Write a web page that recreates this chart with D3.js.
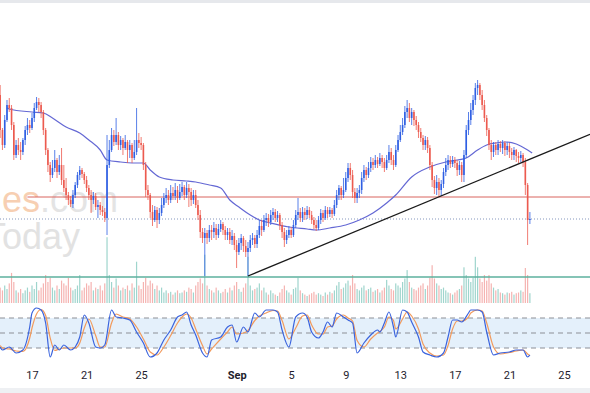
<!DOCTYPE html>
<html>
<head>
<meta charset="utf-8">
<title>Price chart</title>
<script src="https://cdn.jsdelivr.net/npm/d3@7"></script>
<style>
  body { margin: 0; background: #fff; }
  svg { display: block; font-family: Roboto, "Trebuchet MS", sans-serif; }
</style>
</head>
<body>
<svg id="chart" width="590" height="393"></svg>
<script>
// 4-hour candles, the first one opens Aug 14 16:00
var firstTime = new Date(2024, 7, 14, 16);
var firstOpen = 50.5;
var closes = [
  47.0,45.5,48.0,49.5,49.2,47.5,44.5,45.5,45.0,44.8,
  46.0,47.0,47.5,47.2,48.2,49.2,49.8,49.5,48.8,47.0,
  45.0,43.5,42.5,43.2,44.0,42.8,43.5,42.0,41.2,40.5,
  40.0,39.6,40.5,41.5,42.5,43.0,42.6,42.0,41.2,40.5,
  40.0,40.4,39.3,39.5,39.0,38.8,38.2,43.5,45.0,46.5,
  45.8,46.5,45.5,46.0,45.2,45.8,45.0,45.5,44.2,44.8,
  46.0,45.7,45.5,43.5,41.0,40.5,38.8,38.0,39.0,38.0,
  38.7,39.5,40.2,40.5,40.0,40.7,40.4,41.0,40.2,40.8,
  41.3,40.5,41.2,40.8,40.0,40.5,39.5,38.5,36.8,36.2,
  36.7,36.2,37.0,36.8,37.2,36.5,37.1,37.6,37.0,36.5,
  36.8,36.0,36.4,35.5,34.8,35.7,36.2,35.4,34.8,35.2,
  36.0,36.2,35.6,36.5,37.4,37.0,38.0,38.2,37.8,38.5,
  38.8,38.2,38.5,37.5,36.8,36.0,36.5,37.0,36.5,37.5,
  38.5,38.8,38.2,38.8,38.5,39.0,38.5,38.0,37.5,37.2,
  38.0,38.7,38.2,39.0,38.6,39.0,38.6,39.5,40.5,41.2,
  40.5,41.0,42.2,43.2,42.5,40.8,40.2,40.7,41.0,42.2,
  43.0,42.5,43.2,43.8,43.5,44.0,43.6,44.2,43.8,43.2,
  44.0,44.8,44.0,43.5,45.0,46.0,46.8,47.5,48.8,49.2,
  48.2,48.8,48.0,47.5,46.8,46.2,45.5,46.0,45.2,43.5,
  42.0,41.2,41.8,41.0,41.6,42.8,43.5,44.0,43.6,44.0,
  43.7,43.0,43.5,42.5,44.5,47.0,48.0,49.0,50.0,51.2,
  51.5,50.5,49.5,48.2,47.0,45.5,44.8,45.5,45.0,45.6,
  45.2,45.7,45.0,45.4,44.8,44.5,45.0,44.4,44.2,44.5,
  43.8,41.5,38.0,38.1];
var highs = [
  51.5,47.2,48.5,50.0,50.2,49.5,47.8,46.0,46.2,45.8,
  46.2,47.4,48.2,48.0,48.7,49.7,50.3,50.2,49.8,49.0,
  47.2,45.2,43.8,44.0,45.0,44.2,44.5,45.2,43.5,42.2,
  40.8,40.4,41.0,41.8,42.8,43.4,43.2,42.8,42.4,41.5,
  41.0,40.8,40.7,40.0,39.8,39.4,39.2,46.5,46.0,47.2,
  47.0,48.2,46.8,46.4,46.2,46.5,46.0,46.0,45.7,46.0,
  49.2,46.7,46.3,45.7,43.8,41.5,40.7,39.5,39.4,39.3,
  39.2,40.2,40.7,41.2,41.0,41.5,41.3,41.7,41.4,41.6,
  41.8,41.5,41.8,41.6,41.2,41.0,41.0,40.0,39.0,37.2,
  37.2,37.0,37.5,37.5,37.8,37.6,37.6,38.0,37.8,37.4,
  37.2,37.2,37.0,36.7,36.0,36.2,36.6,36.4,36.0,35.8,
  36.5,36.7,36.5,37.0,38.0,38.0,38.5,38.7,38.6,39.0,
  39.2,39.1,38.9,38.7,37.8,37.2,37.0,37.4,37.3,38.0,
  39.0,40.2,39.2,39.3,39.2,39.4,39.3,38.9,38.3,38.0,
  38.4,39.1,39.0,39.4,39.3,39.3,39.2,40.0,41.0,41.5,
  41.4,42.2,42.8,43.7,43.7,43.0,41.2,41.2,41.5,42.8,
  43.5,43.3,43.8,44.3,44.2,44.5,44.3,44.7,44.5,44.2,
  44.5,45.5,45.2,44.5,45.5,46.5,47.5,48.2,49.4,50.0,
  49.7,49.2,49.0,48.4,47.8,47.2,46.5,46.4,46.3,45.5,
  43.8,42.4,42.5,42.2,42.0,43.2,44.2,44.5,44.4,44.4,
  44.3,44.0,43.9,43.8,45.0,47.5,48.8,49.7,50.5,51.7,
  52.0,51.7,51.0,50.0,48.5,47.2,46.0,45.8,45.8,46.0,
  45.9,46.0,45.9,45.8,45.7,45.2,45.3,45.1,44.8,44.9,
  44.7,44.2,41.7,38.8];
var lows = [
  46.2,45.0,45.2,47.8,48.8,47.0,44.0,44.2,44.5,44.0,
  44.5,45.5,46.5,46.7,47.0,47.8,49.0,48.8,48.2,46.5,
  44.5,42.8,41.8,42.2,42.8,42.2,42.5,41.5,40.8,40.0,
  39.5,39.3,39.2,40.2,41.2,42.0,42.2,41.6,40.8,40.0,
  38.7,39.6,39.0,38.2,38.5,38.4,37.8,36.5,43.2,44.8,
  45.4,45.5,45.0,45.0,44.5,45.0,43.7,44.2,43.7,44.0,
  44.5,45.2,45.0,43.0,40.3,40.0,38.2,37.4,37.8,37.2,
  37.6,38.4,39.2,39.7,39.5,39.7,40.0,40.0,39.7,40.0,
  40.4,40.0,40.2,39.3,39.4,39.6,39.2,38.0,36.2,35.7,
  32.4,35.6,35.8,36.0,36.2,36.0,36.2,36.8,36.5,36.0,
  36.0,35.6,35.5,35.0,33.2,34.5,35.0,34.8,34.3,32.4,
  34.8,35.5,35.2,35.2,36.2,36.4,36.8,37.4,37.3,37.5,
  38.0,37.8,37.8,37.0,36.2,35.3,35.6,36.2,36.2,36.3,
  37.2,38.0,37.8,37.8,38.0,38.1,38.2,37.6,37.1,36.9,
  37.0,37.6,37.8,38.0,38.2,38.3,38.2,38.4,39.2,40.0,
  40.0,40.2,40.8,41.8,42.0,40.2,39.7,39.7,40.2,40.6,
  41.8,42.0,42.2,42.8,43.0,43.2,43.2,43.4,43.2,42.8,
  43.0,43.7,43.5,43.0,43.3,44.8,45.8,46.5,47.2,48.2,
  47.8,47.5,47.4,47.0,46.2,45.8,45.0,45.0,44.7,43.0,
  41.3,40.6,40.5,40.3,40.4,41.2,42.4,43.0,43.2,43.3,
  43.2,42.4,42.5,41.8,41.8,44.2,46.5,47.5,48.5,49.5,
  50.5,50.0,49.0,47.8,46.4,45.0,44.0,44.3,44.5,44.5,
  44.8,44.6,44.4,44.5,44.2,44.0,44.0,43.8,43.7,43.8,
  43.3,40.5,35.5,37.6];
var volumes = [
  22,18,25,20,28,43,30,18,15,20, 14,18,22,16,25,20,30,18,22,28,
  40,30,36,22,18,25,20,32,28,25, 36,22,18,20,25,40,18,22,28,25,
  30,18,22,20,25,18,28,94,40,30, 22,35,25,18,22,20,25,18,28,22,
  59,25,20,30,36,25,32,28,20,25, 18,22,15,18,14,16,12,15,18,14,
  15,18,16,22,20,15,25,30,35,28, 69,25,20,18,15,22,18,14,16,20,
  15,22,18,25,30,20,16,22,28,66, 25,18,20,22,28,18,22,15,12,18,
  14,12,10,15,20,25,18,15,12,20, 22,36,18,14,12,10,12,14,16,12,
  14,12,10,15,12,16,14,18,25,30, 20,22,28,32,25,40,28,20,18,22,
  25,18,20,22,16,18,20,15,18,22, 33,25,20,18,28,25,22,30,35,47,
  30,22,20,18,22,25,28,20,25,36, 54,35,28,25,20,22,18,15,14,12,
  15,18,20,25,51,40,35,30,36,66, 51,35,30,40,32,40,28,22,18,20,
  15,14,12,15,14,16,12,14,15,18, 16,50,40,14];

// moving average, read at candle positions
var maIdx = [3,4,14,19,23,29,35,39,44,47,53,58,63,66,70,76,82,86,92,97,101,105,110,114,119,127,135,139,145,152,158,164,170,174,181,189,196,201,205,210,214,218,223,227,232,234];
var maVal = [49.2,49.1,48.8,48.7,48.2,47.3,46.7,46.0,45.0,44.0,43.8,43.7,43.7,43.0,42.3,42.0,41.9,41.8,41.5,41.2,40.0,39.3,38.5,38.0,37.7,37.3,37.1,37.0,37.2,37.5,38.0,38.7,39.7,40.5,42.3,43.3,43.8,44.0,44.2,45.0,45.5,45.7,45.8,45.6,45.0,44.7];

// stochastic %K and %D, read at candle positions
var stochIdx = [0,1,4,7,10,13,14,16,18,20,22,24,26,28,31,33,35,37,39,42,44,46,49,51,54,57,60,63,66,69,72,75,78,80,82,84,86,89,91,93,97,100,102,104,107,109,112,114,117,120,122,124,127,130,133,135,137,140,142,144,146,148,151,153,155,157,160,163,166,167,169,171,173,174,177,179,181,184,186,189,192,195,197,199,201,203,206,207,210,212,214,217,220,224,227,230,232,233];
var stochK = [22,16,22,10,16,62,90,100,96,70,2,26,16,26,16,22,42,86,70,22,20,26,96,82,80,76,52,30,2,10,36,56,82,86,92,66,46,10,2,36,42,62,66,32,62,52,90,82,96,96,92,56,22,82,90,82,52,40,52,72,62,90,82,76,70,10,30,46,56,52,70,92,62,42,96,92,72,42,12,6,2,10,42,76,76,72,90,96,96,92,52,6,10,12,16,16,2,6];
var stochD = [25,20,18,14,13,40,60,88,97,85,40,15,18,20,20,20,30,60,78,45,22,22,70,88,82,78,62,38,12,6,22,45,70,82,88,80,58,25,8,18,38,52,62,48,50,55,75,84,90,95,94,75,38,60,84,86,66,48,48,62,64,78,86,80,74,35,22,38,50,53,62,82,75,58,78,92,84,58,28,10,4,6,25,58,74,74,82,90,96,94,70,22,8,11,14,16,8,5];

// drawn levels
var redLevel = 40.3, redFromIdx = 12;
var greenLevel = 32.3;
var trendIdx = [109, 230], trendVal = [32.4, 43.8];

var tickDates = [new Date(2024,7,17), new Date(2024,7,21), new Date(2024,7,25), new Date(2024,8,1),
  new Date(2024,8,5), new Date(2024,8,9), new Date(2024,8,13), new Date(2024,8,17),
  new Date(2024,8,21), new Date(2024,8,25)];

var width = 590, height = 393;
var upColor = "#2f5fe3", downColor = "#ec5a4f";

function timeAt(i) { return new Date(+firstTime + i * 4 * 3600 * 1000); }

var candles = closes.map(function(c, i) {
  var o = i ? closes[i - 1] : firstOpen;
  return { t: timeAt(i), o: o, c: c,
    h: Math.max(highs[i], o, c), l: Math.min(lows[i], o, c), v: volumes[i] };
});

var svg = d3.select("#chart");

var x = d3.scaleTime()
  .domain([new Date(2024,7,17), new Date(2024,8,25)])
  .range([32, 564]);
var y = d3.scaleLinear().domain([32.3, 59.7]).range([277, 3]);
var yVol = d3.scaleLinear().domain([0, 100]).range([303, 233]);
var yStoch = d3.scaleLinear().domain([0, 100]).range([358, 308]);

// frame strips
svg.append("rect").attr("x", 0).attr("y", 0).attr("width", width).attr("height", 3).attr("fill", "#e6e8ec");
svg.append("rect").attr("x", 0).attr("y", 388).attr("width", width).attr("height", 5).attr("fill", "#eef0f3");

// watermark
var wm = svg.append("g").style("font-family", "Arial, 'Liberation Sans', sans-serif").style("font-size", "36px");
var wm1 = wm.append("text").attr("x", 118).attr("y", 212).attr("text-anchor", "end");
wm1.append("tspan").attr("fill", "#f7cfb2").text("economies");
wm1.append("tspan").attr("fill", "#e4e4e4").text(".com");
wm.append("text").attr("x", 80).attr("y", 249).attr("text-anchor", "end").attr("fill", "#e2e2e2").text("FXToday");

// volume
svg.append("g").selectAll("rect")
  .data(candles)
  .enter().append("rect")
    .attr("x", function(d) { return x(d.t) - 0.6; })
    .attr("width", 1.2)
    .attr("y", function(d) { return yVol(d.v); })
    .attr("height", function(d) { return yVol(0) - yVol(d.v); })
    .attr("fill", function(d) { return d.c >= d.o ? "#9fd5cd" : "#f5b3b1"; });

// horizontal levels
svg.append("line")
  .attr("x1", 0).attr("x2", width)
  .attr("y1", y(greenLevel)).attr("y2", y(greenLevel))
  .attr("stroke", "#5cb09e").attr("stroke-width", 1.5);
svg.append("line")
  .attr("x1", x(timeAt(redFromIdx))).attr("x2", width)
  .attr("y1", y(redLevel)).attr("y2", y(redLevel))
  .attr("stroke", "#d9655f").attr("stroke-width", 1);
var last = candles[candles.length - 1];
svg.append("line")
  .attr("x1", 0).attr("x2", width)
  .attr("y1", y(last.c)).attr("y2", y(last.c))
  .attr("stroke", "#8496bd").attr("stroke-width", 1).attr("stroke-dasharray", "1,2");

// moving average
svg.append("path")
  .datum(maIdx.map(function(d, i) { return [timeAt(d), maVal[i]]; }))
  .attr("fill", "none")
  .attr("stroke", "#6468d4")
  .attr("stroke-width", 1.2)
  .attr("d", d3.line()
    .x(function(d) { return x(d[0]); })
    .y(function(d) { return y(d[1]); })
    .curve(d3.curveMonotoneX));

// candles
var cg = svg.append("g").selectAll("g")
  .data(candles)
  .enter().append("g");
cg.append("line")
  .attr("x1", function(d) { return x(d.t); })
  .attr("x2", function(d) { return x(d.t); })
  .attr("y1", function(d) { return y(d.h); })
  .attr("y2", function(d) { return y(d.l); })
  .attr("stroke", function(d) { return d.c >= d.o ? upColor : downColor; })
  .attr("stroke-width", 0.8);
cg.append("rect")
  .attr("x", function(d) { return x(d.t) - 0.8; })
  .attr("width", 1.6)
  .attr("y", function(d) { return y(Math.max(d.o, d.c)); })
  .attr("height", function(d) { return Math.max(1, Math.abs(y(d.o) - y(d.c))); })
  .attr("fill", function(d) { return d.c >= d.o ? upColor : downColor; });

// trendline, extended to the right edge
var tx0 = x(timeAt(trendIdx[0])), ty0 = y(trendVal[0]);
var tx1 = x(timeAt(trendIdx[1])), ty1 = y(trendVal[1]);
var slope = (ty1 - ty0) / (tx1 - tx0);
svg.append("line")
  .attr("x1", tx0).attr("y1", ty0)
  .attr("x2", width).attr("y2", ty0 + slope * (width - tx0))
  .attr("stroke", "#1a1a1a").attr("stroke-width", 1.3);

// stochastic panel
svg.append("rect")
  .attr("x", 0).attr("width", width)
  .attr("y", yStoch(80)).attr("height", yStoch(20) - yStoch(80))
  .attr("fill", "#e4f0fb");
svg.append("g").selectAll("line")
  .data([80, 50, 20])
  .enter().append("line")
    .attr("x1", 0).attr("x2", width)
    .attr("y1", function(d) { return yStoch(d); })
    .attr("y2", function(d) { return yStoch(d); })
    .attr("stroke", "#8c8f96").attr("stroke-width", 1).attr("stroke-dasharray", "5,4");
var stochLine = d3.line()
  .x(function(d) { return x(d[0]); })
  .y(function(d) { return yStoch(d[1]); })
  .curve(d3.curveMonotoneX);
svg.append("path")
  .datum(stochIdx.map(function(d, i) { return [timeAt(d), stochD[i]]; }))
  .attr("fill", "none").attr("stroke", "#f29a5c").attr("stroke-width", 1.2)
  .attr("d", stochLine);
svg.append("path")
  .datum(stochIdx.map(function(d, i) { return [timeAt(d), stochK[i]]; }))
  .attr("fill", "none").attr("stroke", "#3a63dd").attr("stroke-width", 1.2)
  .attr("d", stochLine);

// time axis
var axis = svg.append("g")
  .attr("transform", "translate(0,371)")
  .call(d3.axisBottom(x)
    .tickValues(tickDates)
    .tickSize(0)
    .tickPadding(0)
    .tickFormat(function(d) { return d.getDate() === 1 ? d3.timeFormat("%b")(d) : d.getDate(); }));
axis.select(".domain").remove();
axis.selectAll("text")
  .style("font-family", "Roboto, sans-serif")
  .style("font-size", "11px")
  .attr("fill", "#1e222d")
  .style("font-weight", function(d) { return d.getDate() === 1 ? "bold" : "normal"; });
</script>
</body>
</html>
